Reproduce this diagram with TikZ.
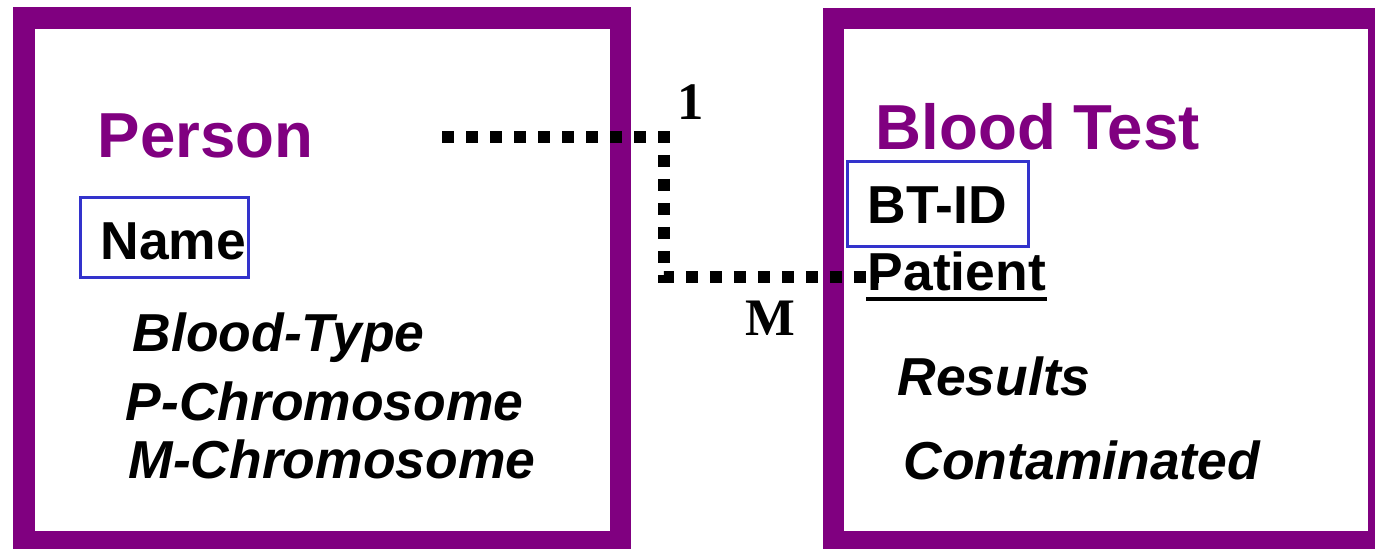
\documentclass[tikz,border=0pt]{standalone}
\usepackage{fontspec}
\setmainfont{Liberation Sans}
\newfontfamily\cardfont{Liberation Serif}
\usetikzlibrary{calc,positioning}
\definecolor{entpurple}{RGB}{128,0,128}
\definecolor{keyblue}{RGB}{51,51,204}

\begin{document}
\begin{tikzpicture}[
  entbox/.style={draw=entpurple, line width=0.215cm},
  keybox/.style={draw=keyblue, line width=0.03cm},
  title/.style={anchor=base west, inner sep=0pt, text=entpurple, font=\fontsize{18.1}{20}\selectfont\bfseries},
  attr/.style={anchor=base west, inner sep=0pt, font=\fontsize{15.2}{17}\selectfont\bfseries},
  iattr/.style={attr, font=\fontsize{15.2}{17}\selectfont\bfseries\itshape},
  card/.style={anchor=base west, inner sep=0pt, font=\fontsize{15}{17}\selectfont\cardfont\bfseries},
  relline/.style={line width=0.12cm, dash pattern=on 0.12cm off 0.12cm}]
  \useasboundingbox (0,0) rectangle (13.75,-5.48);
  % Person
  \draw[entbox] (0.24,-0.18) rectangle (6.205,-5.42);
  \node[title] (person) at (0.97,-1.57) {Person};
  \node[attr] (name) at (1.00,-2.59) {Name};
  \draw[keybox] (0.80,-1.975) rectangle (2.48,-2.77);
  \node[iattr] (btype) at (1.32,-3.51) {Blood-Type};
  \node[iattr] (pchrom) at (1.25,-4.20) {P-Chromosome};
  \node[iattr] (mchrom) at (1.28,-4.78) {M-Chromosome};
  % Blood Test
  \draw[entbox] (8.335,-0.185) rectangle (13.785,-5.42);
  \node[title] (bloodtest) at (8.75,-1.49) {Blood Test};
  \node[attr] (btid) at (8.67,-2.23) {BT-ID};
  \draw[keybox] (8.47,-1.61) rectangle (10.28,-2.46);
  \node[attr] (patient) at (8.67,-2.90) {Patient};
  \draw[line width=0.04cm] ($(patient.base west)+(-0.01,-0.09)$) -- ($(patient.base east)+(0.0,-0.09)$);
  \node[iattr] (results) at (8.97,-3.95) {Results};
  \node[iattr] (contam) at (9.03,-4.79) {Contaminated};
  % relationship 1 : M
  \coordinate (relstart) at (4.42,-1.37);
  \coordinate (relbend) at (6.64,-2.77);
  \coordinate (relend) at (8.78,-2.77);
  \draw[relline] (relstart) -| (relbend) -- (relend);
  \node[card] (one) at (6.77,-1.19) {1};
  \node[card] (many) at (7.45,-3.35) {M};
\end{tikzpicture}
\end{document}
